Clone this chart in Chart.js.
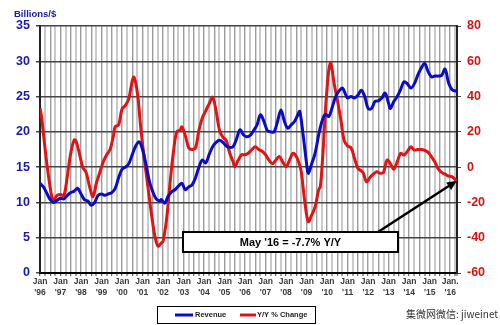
<!DOCTYPE html>
<html lang="en">
<head>
    <meta charset="UTF-8">
    <title>Revenue vs Y/Y % Change</title>
    <script src="https://cdn.jsdelivr.net/npm/chart.js"></script>
    <style>
        body { margin: 0; background: #fff; }
    </style>
</head>
<body>
    <canvas id="revChart" width="500" height="325"></canvas>

    <script>
        // months counted from Jan '96
        const yearLabels = ["'96", "'97", "'98", "'99", "'00", "'01", "'02", "'03", "'04", "'05", "'06",
            "'07", "'08", "'09", "'10", "'11", "'12", "'13", "'14", "'15", "'16"];

        const revMonths = [0, 2, 4, 6, 8, 10, 12, 14, 16, 18, 20, 22, 24, 26, 28, 30, 32, 34, 36, 38,
            40, 42, 44, 46, 48, 50, 52, 54, 56, 58, 60, 62, 64, 66, 68, 70, 71, 73, 75, 77,
            79, 81, 83, 85, 87, 89, 91, 93, 95, 97, 99, 101, 103, 105, 107, 109, 111, 113, 115, 117,
            119, 121, 123, 125, 127, 129, 131, 133, 135, 137, 139, 141, 143, 145, 147, 149, 151, 152, 154, 156,
            157, 159, 161, 163, 165, 167, 169, 171, 173, 175, 177, 179, 180, 182, 184, 186, 188, 190, 192, 194,
            196, 198, 200, 202, 204, 205, 207, 209, 211, 213, 215, 217, 219, 221, 223, 225, 227, 229, 231, 233,
            235, 237, 239, 241, 243, 244];
        const revenue = [12.7, 12.2, 11.3, 10.4, 10.0, 10.3, 10.6, 10.5, 11.0, 11.4, 11.6, 12.0, 11.2, 10.4, 10.2, 9.6, 10.0, 11.0, 11.2, 11.0,
            11.2, 11.4, 12.0, 13.5, 14.7, 15.0, 15.5, 16.8, 18.0, 18.6, 17.5, 15.4, 13.0, 11.5, 10.5, 10.2, 10.4, 9.9, 10.9, 11.5,
            11.8, 12.3, 12.7, 11.8, 12.2, 12.5, 13.5, 15.0, 16.0, 15.6, 16.8, 17.9, 18.5, 18.8, 18.5, 18.0, 17.8, 17.9, 19.0, 20.3,
            19.6, 19.3, 19.5, 20.2, 21.0, 22.4, 21.5, 20.2, 20.0, 20.0, 21.5, 23.1, 21.5, 20.5, 21.0, 21.5, 22.5, 22.9, 19.5, 15.5,
            14.1, 15.5, 17.0, 19.5, 21.5, 22.5, 22.2, 23.5, 25.0, 25.8, 26.2, 25.2, 24.8, 25.0, 24.8, 25.2, 25.9, 25.0, 23.3, 23.3,
            24.3, 24.4, 24.8, 25.5, 24.0, 23.3, 24.3, 25.0, 26.0, 27.1, 26.8, 26.2, 26.8, 28.0, 29.0, 29.7, 28.6, 27.8, 27.9, 27.9,
            28.0, 28.9, 27.0, 26.0, 25.8, 25.9];

        const yoyMonths = [0, 1, 2, 4, 6, 7, 8, 10, 12, 14, 16, 18, 20, 21, 23, 25, 27, 29, 31, 33,
            35, 37, 39, 41, 43, 44, 46, 48, 50, 52, 54, 55, 57, 59, 61, 63, 65, 67, 69, 71,
            72, 74, 76, 78, 80, 82, 83, 85, 87, 89, 91, 93, 95, 97, 99, 101, 103, 105, 107, 109,
            111, 113, 114, 116, 118, 120, 122, 124, 126, 128, 130, 132, 134, 136, 138, 140, 142, 144, 146, 148,
            150, 152, 153, 155, 157, 159, 161, 163, 164, 165, 166, 167, 168, 169, 170, 171, 172, 174, 176, 178,
            180, 182, 184, 186, 187, 189, 191, 193, 195, 197, 199, 201, 203, 205, 207, 209, 211, 213, 215, 217,
            219, 221, 223, 225, 227, 229, 231, 233, 235, 237, 239, 241, 243, 244];
        const yoyChange = [33.4, 28, 19, 2, -12, -17, -18.6, -16, -15.5, -16, -5, 8, 15.4, 15, 8, 0, -3, -11, -16.7, -9,
            -3, 3, 7, 10, 18, 23, 24, 33, 35, 39, 49, 51, 42, 22, 5, -10, -25, -38, -44.7, -43,
            -42, -30, -10, 8, 20, 21, 22.9, 18, 11, 10, 11, 21, 28, 32, 36, 39.6, 32, 21, 17, 15,
            8, 3, 0.2, 4, 7, 7, 8, 10, 11.6, 10, 9, 7, 4, 2, 4, 6, 3, 0.2, 4, 7.8,
            6, 1, -3.5, -20, -30.9, -27, -22.4, -13, -11, 0, 15, 32, 45, 55, 59.5, 55, 48, 38, 27, 15,
            12, 11, 5, -0.7, -1.5, -3, -8.3, -6, -4, -2.6, -3.5, -3, 4, 2, -1.2, 3, 7.8, 6.9, 9, 11.6,
            9.7, 10, 10, 9.5, 8.5, 6, 3, -1, -3, -4, -5, -5.4, -7, -7.7];

        const seriesNames = ['Revenue', 'Y/Y % Change'];
        const calloutText = "May '16 = -7.7% Y/Y";

        const BLUE = '#0a0ac8';
        const RED = '#e01414';

        // extra drawing: title, callout box + arrow, legend box, watermark
        const extras = {
            id: 'extras',
            afterDraw(chart) {
                const ctx = chart.ctx;
                const xs = chart.scales.x, yr = chart.scales.yR;
                ctx.save();

                ctx.fillStyle = '#1a1aa8';
                ctx.font = 'bold 9.5px Arial, "Liberation Sans"';
                ctx.textBaseline = 'middle';
                ctx.fillText('Billions/$', 14, 14);

                // callout
                const bx = 183, by = 232, bw = 215, bh = 20;
                ctx.fillStyle = '#fff';
                ctx.fillRect(bx, by, bw, bh);
                ctx.strokeStyle = '#000';
                ctx.lineWidth = 2;
                ctx.strokeRect(bx, by, bw, bh);
                ctx.fillStyle = '#000';
                ctx.font = 'bold 11px Arial, "Liberation Sans"';
                ctx.textAlign = 'center';
                ctx.fillText(calloutText, bx + bw / 2, by + bh / 2 + 1);

                // arrow to last point
                const ex = xs.getPixelForValue(yoyMonths[yoyMonths.length - 1]);
                const ey = yr.getPixelForValue(yoyChange[yoyChange.length - 1]);
                const sx = 378, sy = by;
                const ang = Math.atan2(ey - sy, ex - sx);
                ctx.lineWidth = 2.5;
                ctx.beginPath();
                ctx.moveTo(sx, sy);
                ctx.lineTo(ex - 7 * Math.cos(ang), ey - 7 * Math.sin(ang));
                ctx.stroke();
                ctx.beginPath();
                ctx.moveTo(ex, ey);
                ctx.lineTo(ex - 10 * Math.cos(ang) + 4.5 * Math.sin(ang), ey - 10 * Math.sin(ang) - 4.5 * Math.cos(ang));
                ctx.lineTo(ex - 10 * Math.cos(ang) - 4.5 * Math.sin(ang), ey - 10 * Math.sin(ang) + 4.5 * Math.cos(ang));
                ctx.closePath();
                ctx.fill();

                // legend
                const lx = 157, ly = 306, lw = 158, lh = 17;
                ctx.lineWidth = 1;
                ctx.strokeRect(lx + 0.5, ly + 0.5, lw, lh);
                ctx.textAlign = 'left';
                ctx.font = 'bold 7.5px Arial, "Liberation Sans"';
                const items = chart.data.datasets;
                const pos = [[175, 193, 195], [240, 256, 257]];
                items.forEach((ds, i) => {
                    ctx.strokeStyle = ds.borderColor;
                    ctx.lineWidth = 3;
                    ctx.beginPath();
                    ctx.moveTo(pos[i][0], ly + 9);
                    ctx.lineTo(pos[i][1], ly + 9);
                    ctx.stroke();
                    ctx.fillStyle = '#222';
                    ctx.fillText(ds.label, pos[i][2], ly + 9);
                });

                // watermark
                ctx.fillStyle = '#333';
                ctx.font = '10px "Noto Sans CJK SC"';
                ctx.fillText('集微网微信: jiweinet', 406, 314);
                ctx.restore();
            }
        };

        const ctx = document.getElementById('revChart').getContext('2d');
        const chart = new Chart(ctx, {
            type: 'line',
            data: {
                datasets: [
                    {
                        label: seriesNames[0],
                        data: revMonths.map((m, i) => ({ x: m, y: revenue[i] })),
                        borderColor: BLUE,
                        borderWidth: 3,
                        pointRadius: 0,
                        tension: 0.35,
                        yAxisID: 'yL'
                    },
                    {
                        label: seriesNames[1],
                        data: yoyMonths.map((m, i) => ({ x: m, y: yoyChange[i] })),
                        borderColor: RED,
                        borderWidth: 3,
                        pointRadius: 0,
                        tension: 0.35,
                        yAxisID: 'yR'
                    }
                ]
            },
            options: {
                responsive: false,
                animation: false,
                maintainAspectRatio: false,
                layout: { padding: { top: 26, left: 0, right: 0, bottom: 0 } },
                plugins: { legend: { display: false }, tooltip: { enabled: false } },
                scales: {
                    x: {
                        type: 'linear',
                        min: 0,
                        max: 244,
                        afterFit: s => { s.height = 52; },
                        afterBuildTicks: s => {
                            const t = [];
                            for (let v = 0; v <= 243; v += 3) t.push({ value: v });
                            t.push({ value: 244 });
                            s.ticks = t;
                        },
                        ticks: {
                            autoSkip: false,
                            maxRotation: 0,
                            padding: 1,
                            color: '#3a3a3a',
                            font: { family: 'Arial, "Liberation Sans"', size: 8.5, weight: 'bold' },
                            callback: v => v % 12 === 0 ? [v === 240 ? 'Jan.' : 'Jan', yearLabels[v / 12]] : ''
                        },
                        grid: {
                            color: c => (c.tick && c.tick.value % 6 === 0) ? '#9c9c9c' : '#cacaca',
                            lineWidth: c => (c.tick && c.tick.value % 6 === 0) ? 1.4 : 2,
                            tickColor: '#444',
                            tickWidth: 1,
                            tickLength: 3
                        },
                        border: { color: '#000', width: 2 }
                    },
                    yL: {
                        position: 'left',
                        min: 0,
                        max: 35,
                        afterFit: s => { s.width = 40; },
                        ticks: {
                            stepSize: 5,
                            padding: 6,
                            color: '#1a1aa8',
                            font: { family: 'Arial, "Liberation Sans"', size: 12.5, weight: 'bold' }
                        },
                        grid: { color: '#454545', lineWidth: 1.5, tickLength: 4 },
                        border: { color: '#222', width: 2 }
                    },
                    yR: {
                        position: 'right',
                        min: -60,
                        max: 80,
                        afterFit: s => { s.width = 43; },
                        ticks: {
                            stepSize: 20,
                            padding: 6,
                            color: '#d41414',
                            font: { family: 'Arial, "Liberation Sans"', size: 12.5, weight: 'bold' }
                        },
                        grid: { drawOnChartArea: false, color: '#444', tickLength: 4 },
                        border: { color: '#222', width: 2 }
                    }
                }
            },
            plugins: [extras]
        });
    </script>
</body>
</html>
